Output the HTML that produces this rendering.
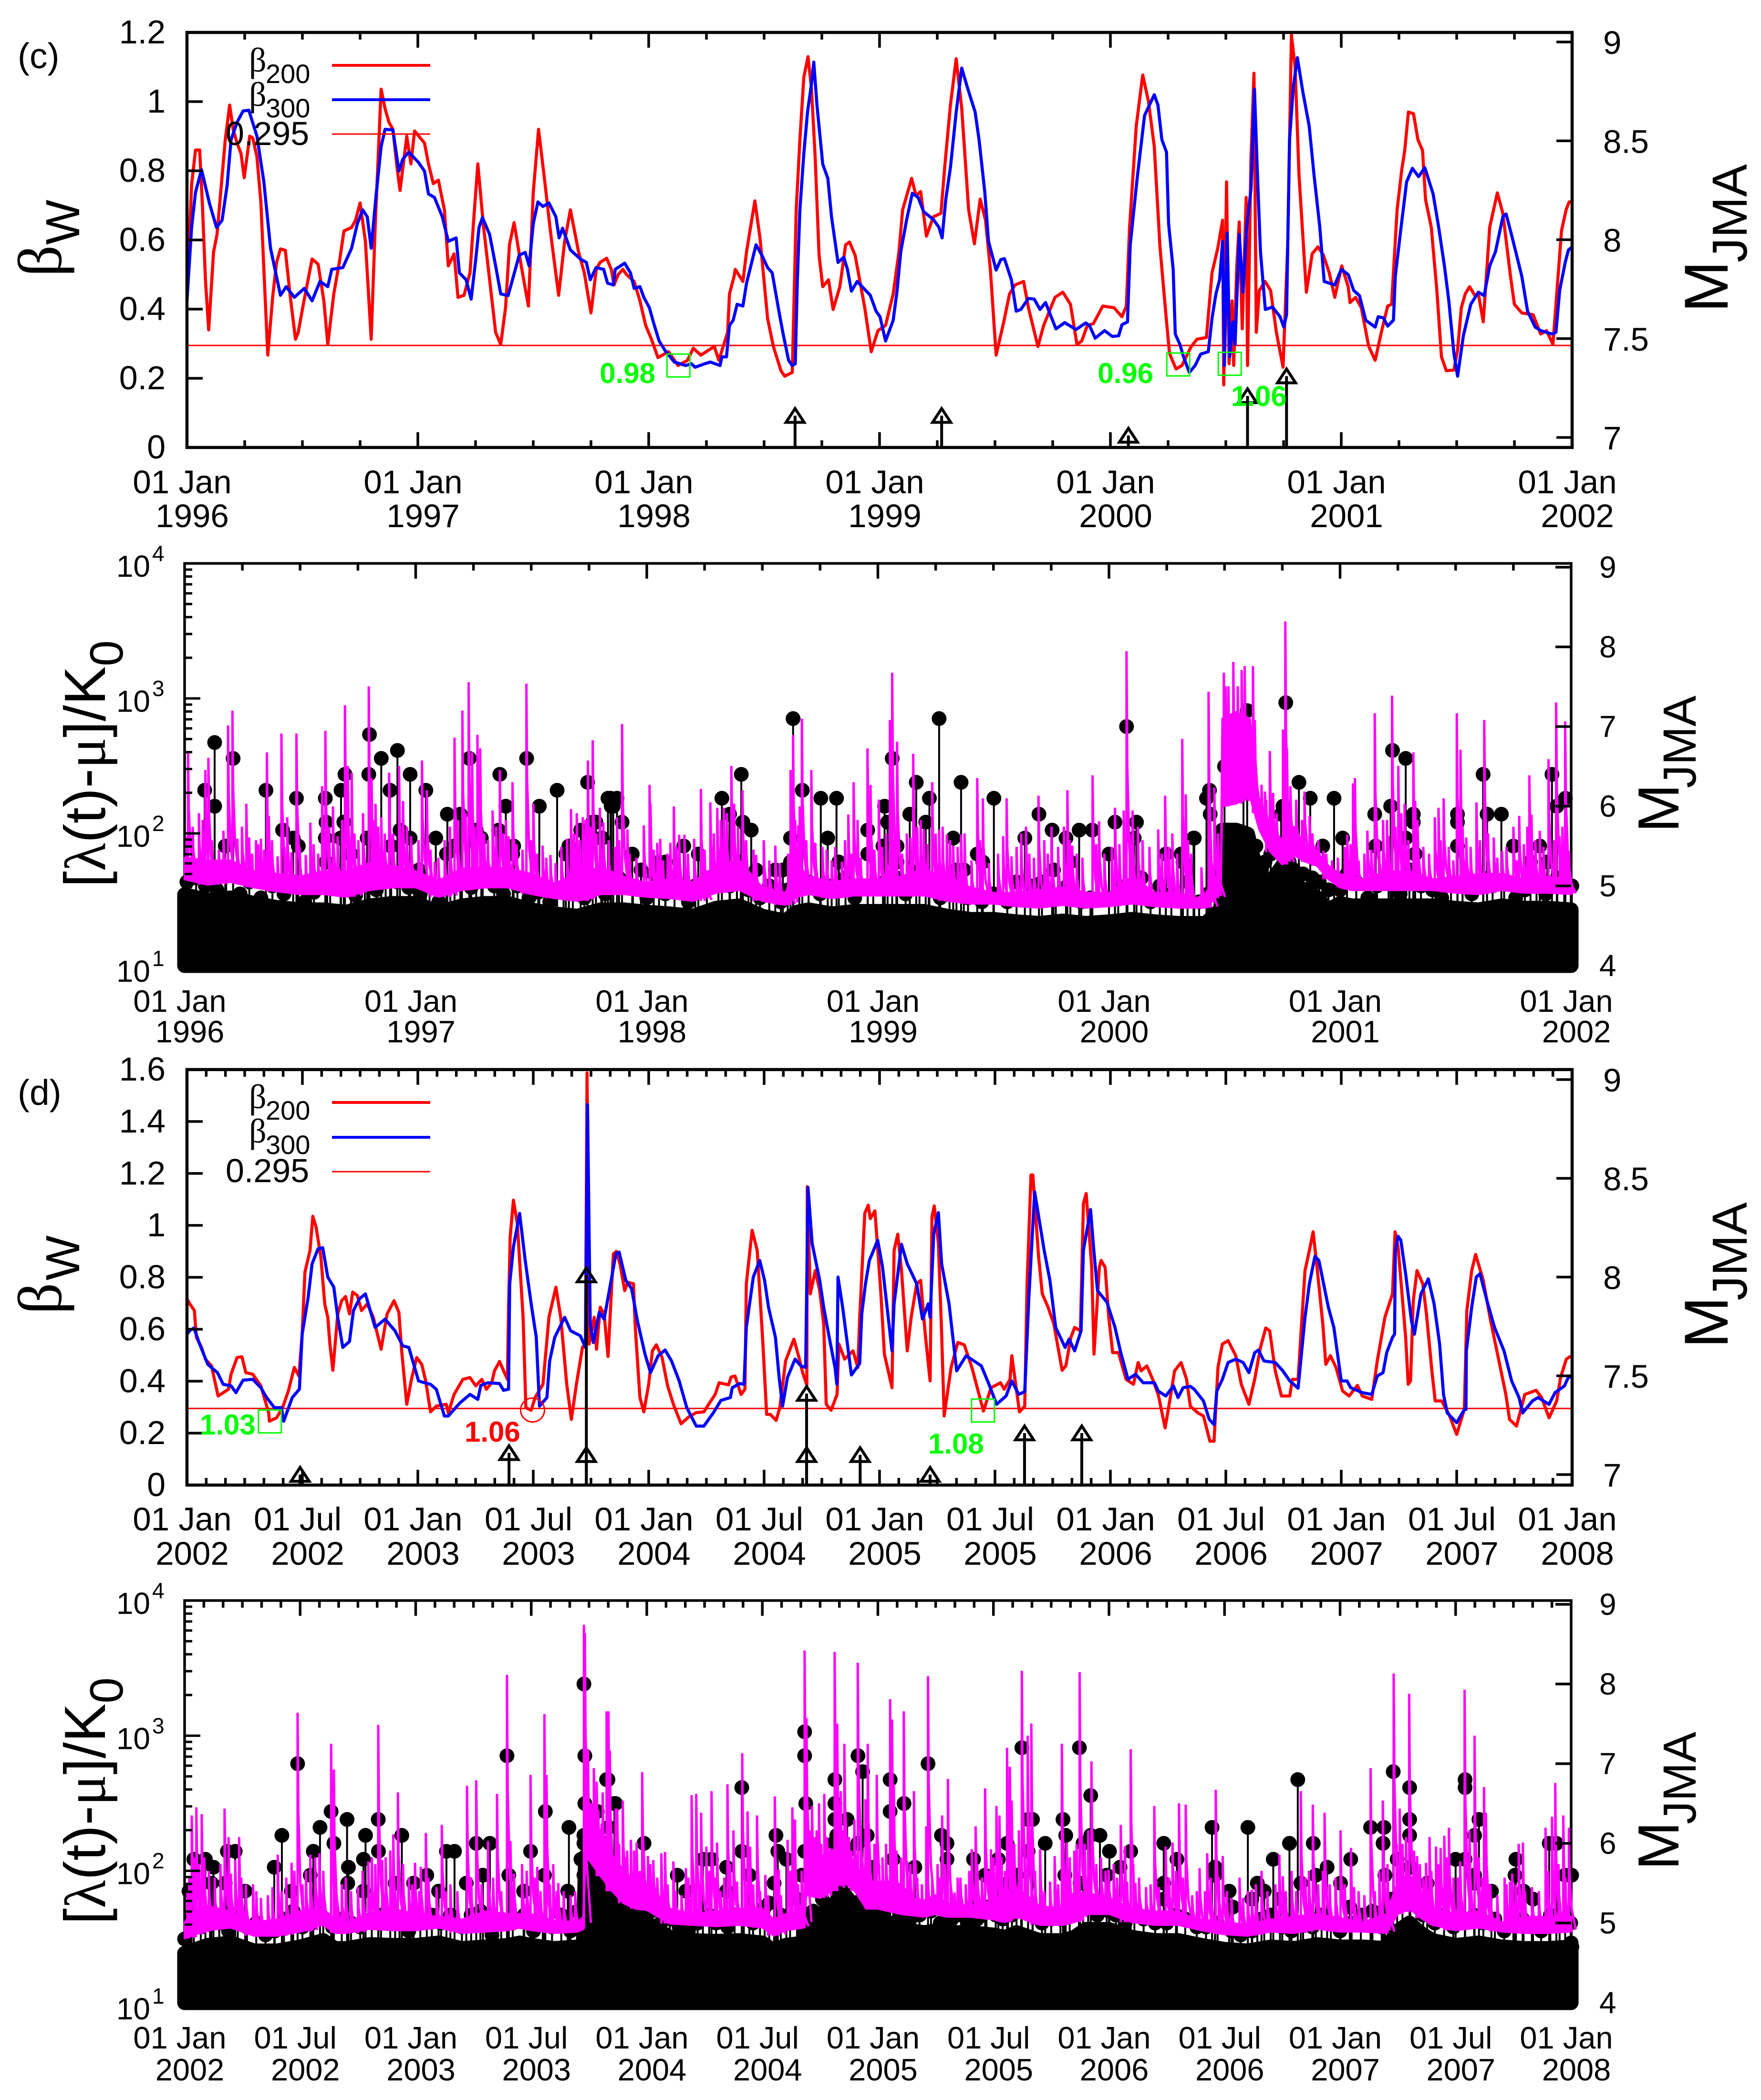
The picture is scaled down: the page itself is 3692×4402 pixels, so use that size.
<!DOCTYPE html>
<html lang="en">
<head>
<meta charset="utf-8">
<title>Branching ratio and seismic rate time series</title>
<style>
html,body{margin:0;padding:0;background:#fff;}
svg{display:block;}
text{font-family:"Liberation Sans",sans-serif;fill:#000;}
.greek{font-family:"Liberation Serif",serif;}
.note{font-weight:bold;font-size:60px;}
</style>
</head>
<body>
<svg id="chart" xmlns="http://www.w3.org/2000/svg" width="3692" height="4402" viewBox="0 0 3692 4402">
<rect x="0" y="0" width="3692" height="4402" fill="#fff"/>

<text x="37" y="143" font-size="75">(c)</text>
<text x="37" y="2316" font-size="75">(d)</text>

<g id="panelC"></g>
<g id="panelCRate"></g>
<g id="panelD"></g>
<g id="panelDRate"></g>

<g>
<g>
<text class="greek" transform="translate(128,580) rotate(-90)" font-size="130">β</text>
<text transform="translate(166,513) rotate(-90)" font-size="100">W</text>
</g>
<g>
<text class="greek" transform="translate(128,2755) rotate(-90)" font-size="130">β</text>
<text transform="translate(166,2684) rotate(-90)" font-size="100">W</text>
</g>
<g>
<text transform="translate(3622,655) rotate(-90)" font-size="130">M</text>
<text transform="translate(3662,550) rotate(-90)" font-size="103">JMA</text>
</g>
<g>
<text transform="translate(3622,2826) rotate(-90)" font-size="130">M</text>
<text transform="translate(3662,2726) rotate(-90)" font-size="103">JMA</text>
</g>
<g>
<text transform="translate(3519,1745) rotate(-90)" font-size="122">M</text>
<text transform="translate(3555,1652) rotate(-90)" font-size="97">JMA</text>
</g>
<g>
<text transform="translate(3519,3920) rotate(-90)" font-size="122">M</text>
<text transform="translate(3555,3824) rotate(-90)" font-size="97">JMA</text>
</g>
<text transform="translate(220,1860) rotate(-90)" font-size="122">[<tspan class="greek">λ</tspan>(t)-<tspan class="greek">μ</tspan>]/K<tspan dy="37" font-size="98">0</tspan></text>
<text transform="translate(220,4034) rotate(-90)" font-size="122">[<tspan class="greek">λ</tspan>(t)-<tspan class="greek">μ</tspan>]/K<tspan dy="37" font-size="98">0</tspan></text>
</g>

<g>
<text class="greek" x="522" y="150" font-size="72">β</text><text x="557" y="174" font-size="56">200</text>
<text class="greek" x="522" y="222" font-size="72">β</text><text x="557" y="246" font-size="56">300</text>
<text x="473" y="304" font-size="70">0.295</text>
<line x1="696" x2="902" y1="137" y2="137" stroke="#f00" stroke-width="6"/>
<line x1="696" x2="902" y1="209" y2="209" stroke="#00f" stroke-width="6"/>
<line x1="696" x2="902" y1="281" y2="281" stroke="#f00" stroke-width="3"/>
</g>
<g>
<text class="greek" x="522" y="2323" font-size="72">β</text><text x="557" y="2347" font-size="56">200</text>
<text class="greek" x="522" y="2395" font-size="72">β</text><text x="557" y="2419" font-size="56">300</text>
<text x="473" y="2478" font-size="70">0.295</text>
<line x1="696" x2="902" y1="2311" y2="2311" stroke="#f00" stroke-width="6"/>
<line x1="696" x2="902" y1="2384" y2="2384" stroke="#00f" stroke-width="6"/>
<line x1="696" x2="902" y1="2456" y2="2456" stroke="#f00" stroke-width="3"/>
</g>

<g>
<text class="note" x="1374" y="803" text-anchor="end" style="fill:#0f0">0.98</text>
<text class="note" x="2418" y="803" text-anchor="end" style="fill:#0f0">0.96</text>
<text class="note" x="2581" y="851" style="fill:#0f0">1.06</text>
<text class="note" x="419" y="3007" style="fill:#0f0">1.03</text>
<text class="note" x="974" y="3022" style="fill:#f00">1.06</text>
<text class="note" x="1946" y="3047" style="fill:#0f0">1.08</text>
</g>
</svg>

<script>
/* ---------- Panel (c): branching ratio, 1996-2002 ---------- */
const beta200C = [[1996.000,.43],[1996.020,.76],[1996.037,.86],[1996.055,.86],[1996.067,.70],[1996.080,.485],[1996.094,.34],[1996.115,.565],[1996.130,.615],[1996.149,.76],[1996.166,.89],[1996.185,.99],[1996.200,.92],[1996.217,.88],[1996.234,.85],[1996.248,.78],[1996.272,.90],[1996.285,.895],[1996.303,.84],[1996.320,.71],[1996.333,.515],[1996.350,.267],[1996.371,.434],[1996.388,.535],[1996.405,.574],[1996.426,.57],[1996.448,.434],[1996.470,.313],[1996.482,.333],[1996.504,.414],[1996.542,.545],[1996.568,.53],[1996.593,.424],[1996.610,.298],[1996.636,.444],[1996.660,.535],[1996.680,.626],[1996.713,.636],[1996.730,.657],[1996.750,.707],[1996.773,.596],[1996.798,.313],[1996.815,.636],[1996.841,1.036],[1996.858,.98],[1996.875,.94],[1996.892,.92],[1996.910,.81],[1996.923,.743],[1996.952,.90],[1996.970,.82],[1996.986,.915],[1997.029,.88],[1997.046,.82],[1997.067,.763],[1997.089,.773],[1997.115,.687],[1997.132,.525],[1997.157,.56],[1997.174,.434],[1997.200,.44],[1997.226,.505],[1997.243,.667],[1997.260,.82],[1997.285,.636],[1997.311,.485],[1997.337,.333],[1997.359,.298],[1997.380,.404],[1997.397,.586],[1997.417,.65],[1997.448,.525],[1997.479,.409],[1997.500,.737],[1997.523,.92],[1997.550,.768],[1997.576,.616],[1997.610,.44],[1997.636,.596],[1997.661,.687],[1997.696,.566],[1997.721,.505],[1997.750,.389],[1997.773,.515],[1997.789,.535],[1997.818,.547],[1997.838,.515],[1997.850,.47],[1997.868,.50],[1997.888,.515],[1997.904,.50],[1997.937,.48],[1997.962,.424],[1997.987,.353],[1998.012,.313],[1998.040,.26],[1998.086,.277],[1998.127,.237],[1998.168,.252],[1998.193,.287],[1998.226,.267],[1998.284,.292],[1998.304,.252],[1998.342,.333],[1998.350,.444],[1998.370,.495],[1998.375,.515],[1998.408,.48],[1998.424,.566],[1998.446,.657],[1998.460,.713],[1998.482,.606],[1998.515,.373],[1998.540,.292],[1998.573,.222],[1998.589,.206],[1998.622,.217],[1998.639,.687],[1998.655,.89],[1998.672,1.07],[1998.690,1.13],[1998.705,1.04],[1998.721,.84],[1998.738,.556],[1998.754,.465],[1998.779,.485],[1998.799,.399],[1998.828,.465],[1998.853,.586],[1998.870,.594],[1998.894,.556],[1998.911,.495],[1998.936,.404],[1998.964,.277],[1998.993,.338],[1999.026,.353],[1999.059,.444],[1999.084,.566],[1999.100,.687],[1999.139,.778],[1999.158,.728],[1999.178,.74],[1999.203,.611],[1999.233,.667],[1999.266,.677],[1999.282,.809],[1999.307,.99],[1999.332,1.124],[1999.356,.98],[1999.386,.687],[1999.411,.589],[1999.436,.718],[1999.459,.657],[1999.480,.515],[1999.505,.267],[1999.538,.363],[1999.563,.444],[1999.587,.47],[1999.624,.48],[1999.645,.404],[1999.686,.292],[1999.711,.353],[1999.760,.434],[1999.794,.449],[1999.827,.414],[1999.855,.298],[1999.876,.308],[1999.900,.353],[1999.926,.358],[1999.967,.409],[2000.016,.404],[2000.050,.378],[2000.069,.409],[2000.083,.637],[2000.112,.93],[2000.140,1.077],[2000.165,1.0],[2000.190,.87],[2000.214,.586],[2000.239,.394],[2000.256,.272],[2000.284,.227],[2000.310,.237],[2000.350,.292],[2000.375,.313],[2000.416,.318],[2000.440,.505],[2000.465,.576],[2000.486,.657],[2000.491,.181],[2000.503,.768],[2000.514,.242],[2000.527,.424],[2000.534,.237],[2000.547,.515],[2000.558,.652],[2000.571,.343],[2000.588,.723],[2000.594,.237],[2000.609,.84],[2000.622,1.082],[2000.632,.333],[2000.645,.454],[2000.670,.48],[2000.694,.454],[2000.719,.333],[2000.748,.232],[2000.768,.586],[2000.784,1.193],[2000.800,1.10],[2000.817,.788],[2000.836,.586],[2000.849,.449],[2000.874,.56],[2000.899,.58],[2000.923,.556],[2000.948,.505],[2000.972,.434],[2001.002,.525],[2001.030,.465],[2001.038,.419],[2001.062,.434],[2001.087,.404],[2001.119,.292],[2001.147,.252],[2001.177,.343],[2001.201,.409],[2001.218,.414],[2001.242,.687],[2001.262,.803],[2001.275,.859],[2001.291,.97],[2001.313,.965],[2001.332,.89],[2001.352,.859],[2001.365,.717],[2001.390,.636],[2001.414,.454],[2001.434,.262],[2001.455,.222],[2001.488,.224],[2001.504,.282],[2001.520,.404],[2001.537,.444],[2001.556,.465],[2001.578,.44],[2001.594,.444],[2001.615,.363],[2001.643,.637],[2001.676,.736],[2001.700,.677],[2001.733,.495],[2001.750,.414],[2001.782,.389],[2001.831,.384],[2001.864,.328],[2001.889,.338],[2001.917,.298],[2001.938,.485],[2001.954,.626],[2001.974,.687],[2001.987,.71],[2002.000,.71]];

const beta300C = [[1996.000,.424],[1996.020,.636],[1996.037,.738],[1996.063,.803],[1996.097,.707],[1996.128,.636],[1996.152,.657],[1996.174,.758],[1996.191,.89],[1996.217,.94],[1996.243,.973],[1996.268,.975],[1996.303,.90],[1996.333,.768],[1996.362,.576],[1996.405,.44],[1996.430,.465],[1996.465,.434],[1996.508,.46],[1996.542,.424],[1996.576,.48],[1996.610,.465],[1996.627,.515],[1996.675,.52],[1996.713,.576],[1996.738,.647],[1996.761,.687],[1996.781,.667],[1996.798,.576],[1996.819,.728],[1996.841,.87],[1996.858,.92],[1996.892,.918],[1996.918,.799],[1996.935,.834],[1996.961,.854],[1997.003,.824],[1997.029,.799],[1997.046,.733],[1997.072,.723],[1997.106,.667],[1997.132,.596],[1997.166,.606],[1997.180,.505],[1997.209,.485],[1997.231,.429],[1997.251,.545],[1997.265,.636],[1997.280,.665],[1997.311,.616],[1997.337,.525],[1997.359,.444],[1997.391,.439],[1997.414,.495],[1997.439,.556],[1997.465,.564],[1997.482,.525],[1997.500,.647],[1997.520,.71],[1997.542,.697],[1997.568,.707],[1997.598,.667],[1997.612,.606],[1997.627,.634],[1997.661,.571],[1997.704,.545],[1997.730,.535],[1997.747,.485],[1997.772,.52],[1997.805,.515],[1997.822,.475],[1997.847,.47],[1997.855,.515],[1997.896,.533],[1997.921,.505],[1997.937,.46],[1997.962,.465],[1997.979,.434],[1998.003,.404],[1998.020,.363],[1998.045,.308],[1998.069,.282],[1998.111,.247],[1998.160,.237],[1998.185,.242],[1998.201,.232],[1998.243,.242],[1998.267,.247],[1998.309,.237],[1998.317,.262],[1998.337,.262],[1998.350,.353],[1998.366,.368],[1998.383,.414],[1998.408,.409],[1998.424,.475],[1998.446,.535],[1998.465,.586],[1998.490,.556],[1998.515,.52],[1998.535,.505],[1998.564,.394],[1998.581,.333],[1998.606,.252],[1998.622,.237],[1998.635,.242],[1998.644,.485],[1998.655,.687],[1998.672,.849],[1998.688,.97],[1998.705,1.05],[1998.715,1.114],[1998.729,.99],[1998.754,.819],[1998.776,.778],[1998.792,.667],[1998.820,.535],[1998.845,.55],[1998.861,.515],[1998.878,.452],[1998.903,.48],[1998.960,.44],[1998.985,.394],[1999.002,.378],[1999.026,.308],[1999.059,.368],[1999.076,.454],[1999.092,.566],[1999.117,.657],[1999.142,.735],[1999.167,.723],[1999.191,.682],[1999.233,.659],[1999.257,.637],[1999.271,.606],[1999.287,.718],[1999.307,.809],[1999.332,.97],[1999.356,1.097],[1999.381,1.04],[1999.414,.97],[1999.431,.89],[1999.456,.738],[1999.472,.596],[1999.505,.513],[1999.525,.543],[1999.541,.546],[1999.571,.485],[1999.592,.394],[1999.612,.399],[1999.645,.431],[1999.670,.429],[1999.695,.399],[1999.719,.419],[1999.764,.343],[1999.802,.361],[1999.851,.341],[1999.893,.36],[1999.909,.353],[1999.934,.316],[1999.975,.338],[2000.008,.321],[2000.036,.323],[2000.050,.355],[2000.074,.363],[2000.086,.586],[2000.116,.778],[2000.148,.96],[2000.190,1.02],[2000.206,.99],[2000.223,.89],[2000.243,.854],[2000.252,.647],[2000.272,.515],[2000.281,.328],[2000.301,.298],[2000.317,.262],[2000.342,.217],[2000.367,.237],[2000.391,.27],[2000.424,.277],[2000.440,.373],[2000.457,.444],[2000.473,.485],[2000.486,.596],[2000.494,.237],[2000.506,.62],[2000.517,.262],[2000.530,.363],[2000.540,.298],[2000.558,.616],[2000.574,.449],[2000.591,.642],[2000.609,.748],[2000.624,1.036],[2000.637,.788],[2000.650,.566],[2000.671,.399],[2000.702,.406],[2000.735,.378],[2000.751,.348],[2000.763,.384],[2000.776,.89],[2000.792,1.04],[2000.810,1.127],[2000.833,1.03],[2000.861,.93],[2000.882,.788],[2000.907,.637],[2000.926,.48],[2000.972,.47],[2001.000,.515],[2001.030,.50],[2001.054,.454],[2001.079,.439],[2001.106,.368],[2001.147,.348],[2001.160,.378],[2001.182,.375],[2001.201,.351],[2001.226,.368],[2001.234,.495],[2001.259,.637],[2001.283,.768],[2001.308,.807],[2001.335,.783],[2001.362,.809],[2001.398,.733],[2001.422,.637],[2001.447,.525],[2001.466,.424],[2001.488,.272],[2001.504,.206],[2001.529,.323],[2001.561,.414],[2001.594,.449],[2001.619,.439],[2001.643,.525],[2001.668,.566],[2001.700,.667],[2001.714,.675],[2001.741,.606],[2001.782,.495],[2001.807,.394],[2001.840,.348],[2001.864,.338],[2001.913,.328],[2001.930,.333],[2001.946,.454],[2001.970,.535],[2001.984,.571],[2002.000,.58]];

const thresholdBeta = [0.295];
const arrowsC = [[1998.634,7.11],[1999.269,7.11],[2000.078,7.01],[2000.594,7.21],[2000.763,7.31]];
const boxesC = [[1998.129,.237],[2000.294,.24],[2000.517,.242]];
const yLabelsC = ["0","0.2","0.4","0.6","0.8","1","1.2"];
const yLabelsD = ["0","0.2","0.4","0.6","0.8","1","1.2","1.4","1.6"];
const rightLabelsBeta = ["7","7.5","8","8.5","9"];
const rightLabelsRate = ["4","5","6","7","8","9"];
const yearLabelsC = ["1996","1997","1998","1999","2000","2001","2002"];
const halfYearLabelsD = [["01 Jan","2002"],["01 Jul","2002"],["01 Jan","2003"],["01 Jul","2003"],["01 Jan","2004"],["01 Jul","2004"],["01 Jan","2005"],["01 Jul","2005"],["01 Jan","2006"],["01 Jul","2006"],["01 Jan","2007"],["01 Jul","2007"],["01 Jan","2008"]];

/* ---------- Panel (c) rate, 1996-2002: [year, magnitude] ---------- */
const eventsCRate = [[1996.13,6.8],[1996.21,6.6],[1996.087,6.2],[1996.13,6.0],[1996.352,6.2],[1996.484,6.1],[1996.609,6.1],[1996.612,5.8],[1996.609,5.6],[1996.612,5.3],[1996.677,6.2],[1996.694,6.4],[1996.689,5.8],[1996.675,5.6],[1996.80,6.9],[1996.797,6.4],[1996.79,5.6],[1996.851,6.6],[1996.889,6.2],[1996.921,6.7],[1996.932,5.7],[1996.976,6.4],[1996.976,5.6],[1997.044,6.2],[1997.087,5.6],[1997.137,5.9],[1997.193,5.9],[1997.232,6.6],[1997.262,5.7],[1997.284,5.6],[1997.364,6.4],[1997.359,5.7],[1997.39,6.0],[1997.424,5.5],[1997.42,5.4],[1997.48,6.6],[1997.535,6.0],[1997.612,6.2],[1997.744,6.3],[1997.766,5.8],[1997.803,5.6],[1997.714,5.7],[1997.663,5.5],[1997.65,5.4],[1997.832,6.1],[1997.846,6.0],[1996.424,5.7],[1996.47,5.6],[1996.492,5.5],[1996.176,5.5],[1997.168,5.5],[1997.133,5.4],[1997.014,5.2],[1996.617,5.1],[1996.72,5.4],[1996.894,5.5],
[1997.78,5.8],[1997.807,5.6],[1997.843,6.1],[1997.871,6.1],[1997.855,6.0],[1997.893,5.8],[1997.937,5.4],[1997.975,5.2],[1998.053,5.3],[1998.081,5.3],[1998.16,5.5],[1998.223,5.4],[1998.325,6.1],[1998.358,5.9],[1998.416,5.8],[1998.409,6.4],[1998.452,5.7],[1998.407,5.3],[1998.473,5.2],[1998.556,5.2],[1998.589,5.2],[1998.633,7.1],[1998.622,5.6],[1998.673,6.2],[1998.622,5.3],[1998.753,6.1],[1998.821,6.1],[1998.783,5.6],[1998.831,5.3],[1998.956,5.7],[1998.956,5.4],[1999.029,6.0],[1999.042,5.8],[1999.022,5.5],[1999.083,5.5],[1999.083,5.3],[1999.062,6.6],[1999.138,5.9],[1999.166,6.3],[1999.223,6.1],[1999.207,5.8],[1999.265,7.1],[1999.326,5.6],[1999.36,6.3],[1999.43,5.4],[1999.454,5.3],[1999.502,6.1],[1999.372,5.2],[1999.636,5.6],[1999.697,5.9],[1999.754,5.7],[1999.814,5.6],[1999.871,5.7],[1999.928,5.7],[1999.833,5.3],[1999.76,5.2],[2000.0,5.4],[2000.026,5.8],[2000.076,7.0],[2000.119,5.8],[2000.109,5.6],[2000.246,5.4],[2000.312,5.4],[2000.32,5.3],[2000.366,5.6],
[2000.369,5.6],[2000.422,6.1],[2000.435,6.2],[2000.438,5.9],[2000.50,6.5],[2000.598,7.2],[2000.582,6.5],[2000.765,7.3],[2000.753,6.0],[2000.745,5.9],[2000.822,6.3],[2000.871,6.1],[2000.974,6.1],[2000.925,5.5],[2001.011,5.6],[2001.15,5.9],[2001.154,5.5],[2001.227,6.7],[2001.219,6.0],[2001.284,6.6],[2001.317,5.9],[2001.317,5.8],[2001.284,5.6],[2001.325,5.4],[2001.508,5.9],[2001.508,5.8],[2001.619,6.4],[2001.636,5.9],[2001.698,5.9],[2001.508,5.5],[2001.75,5.5],[2001.864,5.5],[2001.917,6.4],[2001.938,6.0],[2001.975,6.1],[2001.824,5.3],[2001.897,5.3],[2002.003,5.0],[2002.0,4.5],[2000.636,5.5],[2000.675,5.3]];

/* smaller events just above the dense background */
const lowEventsCRate = [[1996.01,5.05],[1996.05,5.1],[1996.09,5.0],[1996.14,4.95],[1996.18,5.12],[1996.24,4.9],[1996.28,5.05],[1996.33,4.85],[1996.38,5.0],[1996.43,4.9],[1996.47,5.05],[1996.52,4.8],[1996.56,4.92],[1996.63,5.0],[1996.69,5.1],[1996.74,4.88],[1996.78,5.08],[1996.83,4.95],[1996.87,5.12],[1996.92,5.05],[1996.97,4.98],[1997.02,4.9],[1997.06,5.0],[1997.1,4.8],[1997.15,5.05],[1997.2,5.1],[1997.24,4.98],[1997.29,5.12],[1997.34,5.0],[1997.38,4.9],[1997.44,5.0],[1997.49,4.85],[1997.53,4.92],[1997.58,4.8],[1997.64,4.95],[1997.68,5.05],[1997.73,4.85],[1997.78,5.0],[1997.82,4.9],[1997.88,5.1],[1997.94,5.0],[1998.0,4.85],[1998.03,5.15],[1998.08,4.9],[1998.12,5.1],[1998.18,4.8],[1998.21,5.0],[1998.26,5.1],[1998.31,5.2],[1998.36,5.0],[1998.39,5.1],[1998.44,4.95],[1998.49,4.85],[1998.53,5.0],[1998.58,4.8],[1998.61,4.95],[1998.66,5.1],[1998.7,5.05],[1998.75,4.9],[1998.8,5.0],[1998.86,5.1],[1998.9,4.85],[1998.98,5.0],[1999.03,5.05],[1999.08,5.1],[1999.12,4.9],[1999.18,5.2],[1999.22,5.0],[1999.27,4.85],[1999.31,5.1],[1999.34,5.2],[1999.39,4.85],[1999.45,4.8],[1999.5,4.9],[1999.56,4.8],[1999.6,5.05],[1999.66,5.0],[1999.71,5.05],[1999.77,4.85],[1999.82,5.0],[1999.88,4.8],[1999.92,4.85],[2000.04,5.0],[2000.08,4.9],[2000.14,5.1],[2000.18,4.8],[2000.22,5.0],[2000.27,4.9],[2000.34,5.05],[2000.39,4.8],[2000.43,4.9],[2000.47,5.0],[2000.66,5.2],[2000.7,5.4],[2000.73,5.5],[2000.78,5.3],[2000.8,5.2],[2000.84,5.15],[2000.88,5.1],[2000.91,5.05],[2000.95,4.95],[2001.0,4.95],[2001.03,5.15],[2001.07,5.05],[2001.12,4.85],[2001.16,5.0],[2001.21,5.05],[2001.26,4.9],[2001.3,5.2],[2001.35,5.0],[2001.4,4.95],[2001.44,4.85],[2001.48,5.0],[2001.53,5.05],[2001.57,4.9],[2001.62,5.1],[2001.66,5.0],[2001.71,5.05],[2001.76,4.85],[2001.8,4.95],[2001.85,5.0],[2001.89,4.9],[2001.94,5.1],[2001.97,5.0]];

/* centre magnitude of the solid background-event mass */
const backgroundTopCRate = [[1996.0,4.89],[1996.1,4.82],[1996.2,4.85],[1996.3,4.78],[1996.4,4.73],[1996.5,4.7],[1996.6,4.7],[1996.7,4.67],[1996.8,4.75],[1996.9,4.78],[1997.0,4.78],[1997.1,4.67],[1997.2,4.75],[1997.3,4.78],[1997.4,4.78],[1997.5,4.7],[1997.6,4.65],[1997.7,4.62],[1997.8,4.7],[1997.9,4.7],[1998.0,4.67],[1998.1,4.65],[1998.2,4.62],[1998.3,4.72],[1998.4,4.75],[1998.5,4.62],[1998.6,4.56],[1998.65,4.67],[1998.7,4.7],[1998.8,4.65],[1998.9,4.68],[1999.0,4.68],[1999.1,4.68],[1999.2,4.68],[1999.3,4.62],[1999.4,4.58],[1999.5,4.58],[1999.6,4.55],[1999.7,4.53],[1999.8,4.56],[1999.9,4.53],[2000.0,4.55],[2000.1,4.58],[2000.2,4.55],[2000.3,4.53],[2000.38,4.53],[2000.42,4.53],[2000.46,4.65],[2000.484,4.7],[2000.49,5.7],[2000.55,5.7],[2000.6,5.65],[2000.62,5.4],[2000.65,5.1],[2000.7,5.05],[2000.75,5.25],[2000.8,5.0],[2000.85,4.95],[2000.9,4.85],[2000.95,4.7],[2001.0,4.78],[2001.05,4.75],[2001.1,4.75],[2001.2,4.75],[2001.3,4.75],[2001.4,4.75],[2001.5,4.72],[2001.6,4.7],[2001.7,4.75],[2001.8,4.72],[2001.9,4.72],[2002.0,4.7]];

/* [year, log10 lower, log10 upper] of the dense rate band */
const rateBandC = [[1996.0,1.66,1.82],[1996.1,1.62,1.8],[1996.2,1.64,1.8],[1996.3,1.6,1.72],[1996.4,1.57,1.7],[1996.5,1.55,1.68],[1996.6,1.55,1.72],[1996.7,1.53,1.72],[1996.8,1.58,1.78],[1996.9,1.6,1.76],[1997.0,1.6,1.72],[1997.1,1.53,1.65],[1997.2,1.58,1.74],[1997.3,1.6,1.75],[1997.4,1.6,1.74],[1997.5,1.55,1.7],[1997.6,1.52,1.63],[1997.7,1.5,1.7],[1997.8,1.55,1.75],[1997.9,1.55,1.68],[1998.0,1.53,1.63],[1998.1,1.52,1.66],[1998.2,1.5,1.64],[1998.3,1.56,1.76],[1998.4,1.58,1.8],[1998.5,1.5,1.6],[1998.6,1.47,1.56],[1998.65,1.53,1.78],[1998.7,1.55,1.68],[1998.8,1.52,1.64],[1998.9,1.54,1.66],[1999.0,1.54,1.66],[1999.1,1.54,1.68],[1999.2,1.54,1.74],[1999.3,1.5,1.66],[1999.4,1.48,1.6],[1999.5,1.48,1.56],[1999.6,1.46,1.56],[1999.7,1.45,1.58],[1999.8,1.47,1.6],[1999.9,1.45,1.56],[2000.0,1.46,1.56],[2000.1,1.48,1.68],[2000.2,1.46,1.56],[2000.3,1.45,1.56],[2000.38,1.45,1.52],[2000.42,1.45,1.56],[2000.46,1.52,1.68],[2000.484,1.55,1.7],[2000.49,2.2,2.85],[2000.55,2.22,2.9],[2000.61,2.27,2.85],[2000.63,2.15,2.5],[2000.65,2.03,2.25],[2000.7,1.86,2.05],[2000.75,1.77,1.95],[2000.8,1.84,2.05],[2000.85,1.79,1.9],[2000.9,1.76,1.86],[2000.95,1.66,1.76],[2001.0,1.6,1.7],[2001.05,1.58,1.68],[2001.1,1.58,1.66],[2001.2,1.58,1.72],[2001.3,1.58,1.72],[2001.4,1.58,1.66],[2001.5,1.56,1.68],[2001.6,1.55,1.7],[2001.7,1.58,1.7],[2001.8,1.56,1.66],[2001.9,1.56,1.68],[2002.0,1.55,1.66]];

/* [year, log10 peak] */
const rateSpikesC = [[1996.015,2.6],[1996.062,2.15],[1996.09,2.47],[1996.103,2.56],[1996.188,2.8],[1996.207,2.91],[1996.267,2.22],[1996.279,1.97],[1996.309,1.95],[1996.33,1.96],[1996.356,2.6],[1996.364,2.13],[1996.419,2.74],[1996.444,2.12],[1996.484,2.74],[1996.544,2.08],[1996.609,2.76],[1996.595,2.35],[1996.694,2.95],[1996.706,2.5],[1996.723,2.45],[1996.797,3.09],[1996.809,2.41],[1996.826,2.22],[1996.851,2.12],[1996.885,2.45],[1996.928,2.5],[1996.945,2.24],[1996.98,1.98],[1997.027,2.54],[1997.048,2.32],[1997.082,1.79],[1997.168,2.71],[1997.202,2.91],[1997.229,3.12],[1997.244,2.6],[1997.267,2.73],[1997.279,2.63],[1997.333,2.17],[1997.364,2.47],[1997.39,2.1],[1997.419,2.38],[1997.479,3.11],[1997.509,2.22],[1997.549,1.91],[1997.583,1.84],[1997.672,2.18],[1997.745,2.54],[1997.766,2.69],[1997.697,2.15],[1997.723,2.12],[1997.797,2.19],
[1997.893,2.81],[1997.871,2.12],[1997.916,2.03],[1997.987,2.06],[1998.012,2.36],[1998.016,2.22],[1998.045,1.93],[1998.058,1.96],[1998.117,2.2],[1998.102,1.93],[1998.14,1.99],[1998.163,1.99],[1998.234,2.33],[1998.275,2.23],[1998.305,2.19],[1998.333,2.19],[1998.366,2.5],[1998.378,2.22],[1998.414,2.32],[1998.473,1.84],[1998.506,1.95],[1998.556,1.91],[1998.622,2.47],[1998.633,2.73],[1998.655,2.06],[1998.671,2.85],[1998.712,2.47],[1998.729,1.93],[1998.778,1.88],[1998.844,1.79],[1998.872,2.14],[1998.895,2.38],[1998.912,2.1],[1998.955,2.63],[1998.968,2.36],[1999.004,2.25],[1999.052,2.84],[1999.062,3.19],[1999.083,2.68],[1999.153,2.59],[1999.141,1.97],[1999.199,2.03],[1999.235,2.38],[1999.265,2.03],[1999.298,1.99],[1999.326,1.91],[1999.36,1.99],[1999.43,2.41],[1999.454,2.26],[1999.542,1.98],[1999.557,2.26],[1999.578,1.83],[1999.641,2.05],[1999.695,2.28],[1999.751,2.05],[1999.82,2.32],[1999.841,1.91],[1999.929,2.43],[1999.957,2.09],[2000.026,2.19],[2000.076,3.35],[2000.064,2.17],[2000.102,2.17],[2000.213,2.03],[2000.243,2.28],[2000.274,2.0],[2000.317,2.7],[2000.332,2.29],
[2000.431,3.05],[2000.456,2.34],[2000.497,3.19],[2000.505,3.09],[2000.517,3.09],[2000.538,3.27],[2000.557,3.09],[2000.574,3.21],[2000.587,3.24],[2000.623,3.24],[2000.631,2.84],[2000.66,2.36],[2000.696,2.61],[2000.675,2.31],[2000.753,2.77],[2000.763,3.57],[2000.77,2.63],[2000.846,2.31],[2000.868,2.13],[2000.892,1.91],[2000.928,1.87],[2001.031,1.99],[2001.056,2.37],[2001.064,2.41],[2001.118,2.02],[2001.15,2.89],[2001.186,2.1],[2001.203,2.1],[2001.225,3.02],[2001.252,2.5],[2001.279,2.22],[2001.317,2.6],[2001.325,2.24],[2001.41,2.12],[2001.426,2.19],[2001.448,2.26],[2001.505,2.89],[2001.521,2.62],[2001.546,1.97],[2001.59,2.23],[2001.624,2.84],[2001.665,1.97],[2001.701,1.87],[2001.75,2.05],[2001.775,2.13],[2001.819,2.43],[2001.828,2.14],[2001.864,2.02],[2001.902,2.55],[2001.935,2.97],[2001.962,2.05],[2001.974,2.83],[2001.99,1.87]];

/* shorter aftershock spikes forming the jagged top of the band */
const minorSpikesC = [[1996.008,1.98],[1996.035,2.05],[1996.078,2.1],[1996.118,1.95],[1996.148,1.88],[1996.168,2.02],[1996.228,1.96],[1996.248,2.05],[1996.292,1.85],[1996.318,1.92],[1996.344,1.88],[1996.378,1.95],[1996.402,1.83],[1996.432,1.9],[1996.462,1.86],[1996.498,1.9],[1996.524,1.84],[1996.558,1.92],[1996.578,1.85],[1996.625,2.05],[1996.642,2.2],[1996.662,1.98],[1996.682,2.1],[1996.735,2.0],[1996.752,1.95],[1996.772,2.15],[1996.815,2.1],[1996.838,2.05],[1996.866,2.0],[1996.902,2.0],[1996.938,1.95],[1996.962,2.05],
[1997.012,1.95],[1997.064,1.88],[1997.098,1.82],[1997.125,1.95],[1997.148,2.05],[1997.182,2.1],[1997.216,2.15],[1997.255,2.05],[1997.296,2.0],[1997.312,1.95],[1997.348,2.05],[1997.378,2.0],[1997.402,1.98],[1997.436,1.92],[1997.462,1.88],[1997.498,1.95],[1997.525,1.85],[1997.565,1.82],[1997.605,1.78],[1997.63,1.9],[1997.655,1.96],[1997.685,2.0],[1997.71,1.95],[1997.735,2.1],[1997.755,2.05],[1997.782,2.0],[1997.812,2.08],[1997.835,1.95],[1997.862,1.9],[1997.88,1.95],[1997.925,1.85],[1997.955,1.82],
[1998.03,1.88],[1998.07,1.8],[1998.09,1.85],[1998.128,1.9],[1998.178,1.85],[1998.205,1.96],[1998.25,1.88],[1998.29,2.0],[1998.32,2.1],[1998.346,2.15],[1998.395,2.05],[1998.43,1.95],[1998.462,1.88],[1998.53,1.8],[1998.575,1.78],[1998.612,1.85],[1998.642,2.1],[1998.662,2.2],[1998.69,1.95],[1998.73,1.85],[1998.76,1.9],[1998.8,1.8],[1998.815,1.9],[1998.858,1.95],[1998.885,1.85],[1998.925,1.82],[1998.985,1.88],
[1999.018,1.9],[1999.035,2.0],[1999.072,1.95],[1999.105,1.85],[1999.125,2.0],[1999.17,2.05],[1999.185,2.1],[1999.215,1.92],[1999.25,2.0],[1999.28,2.05],[1999.312,1.95],[1999.345,1.9],[1999.375,2.0],[1999.405,1.8],[1999.442,1.95],[1999.48,1.78],[1999.52,1.85],[1999.6,1.9],[1999.62,2.0],[1999.655,1.85],[1999.675,1.82],[1999.72,1.95],[1999.735,1.85],[1999.78,1.9],[1999.805,2.05],[1999.83,1.95],[1999.86,1.85],[1999.885,1.82],[1999.945,1.92],[1999.98,1.85],
[2000.012,1.9],[2000.045,1.92],[2000.09,2.0],[2000.125,2.05],[2000.145,1.95],[2000.175,1.9],[2000.228,1.85],[2000.26,1.9],[2000.295,1.85],[2000.342,1.95],[2000.355,1.85],[2000.4,1.75],[2000.44,1.85],[2000.472,2.0],[2000.66,2.2],[2000.68,2.25],[2000.71,2.3],[2000.725,2.15],[2000.785,2.35],[2000.81,2.25],[2000.835,2.1],[2000.88,2.0],[2000.905,1.95],[2000.94,1.85],[2000.965,1.8],[2000.99,1.82],
[2001.02,1.9],[2001.045,1.92],[2001.08,1.8],[2001.105,1.85],[2001.135,1.88],[2001.168,1.95],[2001.21,1.98],[2001.24,2.05],[2001.265,2.15],[2001.295,1.95],[2001.335,2.1],[2001.36,1.9],[2001.385,1.85],[2001.435,1.95],[2001.47,1.9],[2001.49,1.8],[2001.53,2.05],[2001.565,1.9],[2001.605,1.95],[2001.64,2.0],[2001.68,1.82],[2001.72,1.9],[2001.765,1.8],[2001.795,1.92],[2001.81,2.05],[2001.845,1.95],[2001.88,1.9],[2001.925,1.95],[2001.95,1.98],[2001.98,2.0]];

/* ---------- Panel (d): branching ratio, 2002-2008 ---------- */
const beta200D = [[2002.000,.717],[2002.012,.698],[2002.032,.672],[2002.041,.569],[2002.063,.53],[2002.080,.485],[2002.106,.459],[2002.135,.343],[2002.180,.369],[2002.191,.427],[2002.217,.491],[2002.238,.494],[2002.255,.433],[2002.285,.427],[2002.320,.382],[2002.354,.278],[2002.357,.246],[2002.388,.259],[2002.414,.298],[2002.439,.362],[2002.465,.453],[2002.485,.42],[2002.499,.581],[2002.511,.82],[2002.533,.904],[2002.545,1.035],[2002.559,.994],[2002.580,.878],[2002.597,.697],[2002.610,.646],[2002.619,.543],[2002.632,.442],[2002.653,.659],[2002.670,.71],[2002.687,.726],[2002.704,.659],[2002.718,.743],[2002.738,.73],[2002.756,.672],[2002.781,.698],[2002.807,.646],[2002.841,.523],[2002.867,.659],[2002.897,.71],[2002.918,.665],[2002.930,.517],[2002.952,.311],[2002.974,.414],[2002.995,.491],[2003.017,.465],[2003.034,.401],[2003.055,.282],[2003.080,.304],[2003.123,.311],[2003.132,.278],[2003.157,.349],[2003.195,.407],[2003.226,.414],[2003.251,.382],[2003.277,.407],[2003.297,.369],[2003.320,.394],[2003.332,.44],[2003.354,.476],[2003.388,.407],[2003.393,.684],[2003.400,.955],[2003.414,1.097],[2003.431,1.007],[2003.456,.646],[2003.468,.298],[2003.491,.288],[2003.508,.337],[2003.542,.388],[2003.568,.646],[2003.598,.762],[2003.619,.646],[2003.645,.388],[2003.665,.253],[2003.687,.388],[2003.713,.53],[2003.726,.543],[2003.733,1.587],[2003.742,.543],[2003.764,.646],[2003.774,.523],[2003.790,.685],[2003.807,.659],[2003.824,.495],[2003.847,.89],[2003.860,.90],[2003.876,.85],[2003.896,.749],[2003.909,.781],[2003.934,.775],[2003.942,.607],[2003.962,.337],[2003.979,.282],[2004.000,.388],[2004.016,.517],[2004.033,.54],[2004.058,.491],[2004.082,.382],[2004.107,.311],[2004.140,.236],[2004.173,.262],[2004.206,.279],[2004.239,.282],[2004.264,.317],[2004.288,.349],[2004.305,.394],[2004.346,.386],[2004.357,.416],[2004.374,.42],[2004.400,.349],[2004.417,.369],[2004.423,.775],[2004.448,.981],[2004.470,.904],[2004.494,.556],[2004.511,.272],[2004.527,.272],[2004.552,.249],[2004.568,.298],[2004.593,.478],[2004.629,.562],[2004.651,.491],[2004.667,.433],[2004.685,.385],[2004.687,1.149],[2004.700,.736],[2004.722,.826],[2004.741,.749],[2004.758,.62],[2004.769,.311],[2004.790,.288],[2004.816,.349],[2004.824,.543],[2004.849,.485],[2004.885,.517],[2004.906,.453],[2004.914,.646],[2004.936,1.046],[2004.951,1.078],[2004.960,1.026],[2004.980,1.056],[2005.005,.749],[2005.021,.504],[2005.054,.375],[2005.063,.904],[2005.079,.966],[2005.095,.826],[2005.120,.517],[2005.137,.646],[2005.161,.775],[2005.178,.788],[2005.198,.581],[2005.219,.401],[2005.227,1.033],[2005.237,1.075],[2005.255,.93],[2005.269,.581],[2005.280,.266],[2005.310,.453],[2005.339,.549],[2005.367,.54],[2005.400,.453],[2005.450,.285],[2005.483,.375],[2005.524,.394],[2005.540,.369],[2005.565,.407],[2005.573,.498],[2005.606,.282],[2005.629,.304],[2005.639,.775],[2005.656,1.194],[2005.664,1.194],[2005.689,.878],[2005.705,.736],[2005.730,.685],[2005.755,.62],[2005.791,.442],[2005.807,.459],[2005.829,.569],[2005.845,.607],[2005.870,.594],[2005.883,1.084],[2005.895,1.123],[2005.919,.839],[2005.929,.504],[2005.952,.839],[2005.960,.865],[2005.977,.839],[2005.993,.646],[2006.010,.51],[2006.035,.51],[2006.068,.407],[2006.100,.388],[2006.120,.472],[2006.133,.44],[2006.158,.459],[2006.183,.407],[2006.207,.349],[2006.237,.22],[2006.257,.324],[2006.278,.44],[2006.306,.472],[2006.330,.407],[2006.346,.304],[2006.379,.278],[2006.403,.266],[2006.431,.169],[2006.449,.169],[2006.466,.453],[2006.485,.543],[2006.510,.556],[2006.543,.498],[2006.567,.388],[2006.600,.311],[2006.625,.407],[2006.650,.53],[2006.673,.605],[2006.690,.594],[2006.714,.44],[2006.741,.343],[2006.777,.343],[2006.788,.407],[2006.813,.407],[2006.830,.646],[2006.843,.826],[2006.862,.904],[2006.878,.975],[2006.895,.839],[2006.920,.62],[2006.933,.465],[2006.953,.498],[2006.977,.453],[2007.006,.362],[2007.034,.343],[2007.070,.384],[2007.091,.343],[2007.132,.33],[2007.156,.478],[2007.189,.646],[2007.222,.736],[2007.233,.975],[2007.246,.917],[2007.279,.569],[2007.290,.388],[2007.300,.401],[2007.312,.71],[2007.328,.826],[2007.353,.775],[2007.369,.659],[2007.394,.427],[2007.407,.324],[2007.435,.324],[2007.467,.272],[2007.500,.195],[2007.533,.291],[2007.544,.672],[2007.565,.826],[2007.582,.888],[2007.615,.788],[2007.647,.633],[2007.680,.491],[2007.713,.349],[2007.729,.253],[2007.759,.227],[2007.795,.349],[2007.844,.365],[2007.868,.337],[2007.900,.259],[2007.933,.324],[2007.950,.414],[2007.975,.485],[2007.990,.494],[2008.000,.498]];

const beta300D = [[2002.000,.58],[2002.012,.595],[2002.030,.605],[2002.055,.543],[2002.090,.465],[2002.132,.433],[2002.157,.388],[2002.191,.382],[2002.212,.356],[2002.243,.404],[2002.285,.407],[2002.320,.375],[2002.345,.337],[2002.379,.298],[2002.409,.298],[2002.419,.246],[2002.456,.337],[2002.487,.369],[2002.499,.581],[2002.525,.723],[2002.542,.852],[2002.568,.91],[2002.588,.914],[2002.610,.801],[2002.636,.762],[2002.653,.646],[2002.675,.53],[2002.704,.553],[2002.721,.672],[2002.747,.717],[2002.773,.736],[2002.815,.607],[2002.858,.639],[2002.901,.594],[2002.935,.536],[2002.961,.53],[2003.003,.401],[2003.029,.394],[2003.055,.388],[2003.080,.369],[2003.115,.266],[2003.132,.266],[2003.183,.317],[2003.226,.349],[2003.260,.33],[2003.273,.384],[2003.303,.394],[2003.354,.391],[2003.371,.365],[2003.393,.369],[2003.398,.775],[2003.414,.917],[2003.441,1.046],[2003.465,.865],[2003.491,.698],[2003.513,.569],[2003.527,.304],[2003.559,.337],[2003.571,.478],[2003.593,.569],[2003.636,.646],[2003.662,.594],[2003.704,.575],[2003.726,.53],[2003.735,1.465],[2003.747,.62],[2003.760,.549],[2003.786,.665],[2003.807,.639],[2003.832,.762],[2003.858,.891],[2003.872,.897],[2003.901,.788],[2003.926,.756],[2003.951,.633],[2003.984,.504],[2004.008,.433],[2004.041,.498],[2004.071,.52],[2004.099,.478],[2004.132,.401],[2004.165,.298],[2004.206,.227],[2004.239,.227],[2004.280,.278],[2004.313,.326],[2004.354,.337],[2004.362,.375],[2004.395,.391],[2004.413,.388],[2004.423,.607],[2004.453,.801],[2004.481,.865],[2004.502,.788],[2004.519,.685],[2004.549,.569],[2004.565,.414],[2004.580,.304],[2004.601,.414],[2004.634,.485],[2004.659,.459],[2004.680,.453],[2004.690,1.146],[2004.708,.93],[2004.741,.788],[2004.758,.685],[2004.782,.569],[2004.807,.453],[2004.815,.388],[2004.820,.801],[2004.840,.685],[2004.857,.569],[2004.878,.424],[2004.914,.468],[2004.923,.659],[2004.939,.775],[2004.956,.865],[2004.992,.943],[2005.013,.839],[2005.054,.517],[2005.063,.698],[2005.095,.927],[2005.120,.852],[2005.161,.775],[2005.186,.639],[2005.211,.698],[2005.219,.646],[2005.235,.968],[2005.255,1.049],[2005.269,.852],[2005.301,.698],[2005.334,.44],[2005.375,.498],[2005.441,.459],[2005.474,.388],[2005.507,.311],[2005.548,.343],[2005.573,.401],[2005.603,.349],[2005.629,.36],[2005.647,.723],[2005.672,1.129],[2005.713,.904],[2005.738,.788],[2005.763,.607],[2005.804,.53],[2005.821,.562],[2005.845,.517],[2005.873,.594],[2005.883,.904],[2005.914,1.061],[2005.928,.904],[2005.944,.749],[2005.985,.704],[2006.020,.607],[2006.043,.517],[2006.076,.407],[2006.109,.427],[2006.142,.394],[2006.191,.394],[2006.207,.362],[2006.240,.343],[2006.273,.382],[2006.293,.337],[2006.315,.375],[2006.346,.38],[2006.363,.369],[2006.403,.324],[2006.428,.253],[2006.449,.233],[2006.461,.362],[2006.485,.407],[2006.510,.472],[2006.543,.485],[2006.575,.472],[2006.600,.433],[2006.625,.51],[2006.641,.52],[2006.665,.478],[2006.714,.472],[2006.747,.44],[2006.777,.401],[2006.813,.373],[2006.843,.646],[2006.862,.775],[2006.886,.881],[2006.903,.865],[2006.944,.685],[2006.968,.607],[2007.000,.401],[2007.025,.401],[2007.041,.375],[2007.091,.356],[2007.132,.349],[2007.156,.42],[2007.181,.433],[2007.197,.51],[2007.222,.569],[2007.231,.581],[2007.234,.90],[2007.246,.958],[2007.258,.943],[2007.279,.813],[2007.304,.633],[2007.317,.581],[2007.345,.736],[2007.377,.794],[2007.402,.698],[2007.426,.543],[2007.443,.349],[2007.459,.278],[2007.500,.24],[2007.533,.291],[2007.540,.291],[2007.542,.517],[2007.565,.685],[2007.585,.801],[2007.601,.814],[2007.631,.71],[2007.664,.607],[2007.705,.517],[2007.738,.401],[2007.770,.337],[2007.786,.278],[2007.828,.324],[2007.852,.337],[2007.900,.311],[2007.926,.356],[2007.967,.382],[2007.984,.416],[2008.000,.416]];

const arrowsD = [[2002.49,7.0],[2003.395,7.11],[2003.73,7.1],[2003.73,8.01],[2004.684,7.1],[2004.684,7.41],[2004.916,7.1],[2005.219,7.0],[2005.628,7.21],[2005.876,7.21]];
const boxesD = [[2002.359,.245],[2005.448,.287]];
const circlesD = [[2003.497,.289]];

/* ---------- Panel (d) rate, 2002-2008 ---------- */
const eventsDRate = [[2002.489,7.0],[2002.421,6.1],[2002.388,5.7],[2002.462,5.4],[2002.544,5.6],[2002.557,5.9],[2002.586,6.2],[2002.634,6.4],[2002.646,6.0],[2002.709,5.7],[2002.706,5.5],[2002.703,6.3],[2002.783,6.1],[2002.774,5.8],[2002.774,5.4],[2002.838,6.3],[2002.839,5.9],[2002.94,6.1],[2002.911,5.5],[2002.991,5.5],[2003.048,5.6],[2003.099,5.4],[2003.133,5.9],[2003.168,5.9],[2003.219,5.5],[2003.262,6.0],[2003.321,6.0],[2003.291,5.6],[2003.395,7.1],[2003.403,5.6],[2003.497,5.9],[2003.561,6.4],[2003.557,5.6],[2003.467,5.4],[2003.663,6.2],[2003.658,5.4],[2003.715,5.8],[2003.728,8.0],[2003.732,7.1],[2003.732,6.5],[2003.728,6.1],[2003.728,6.0],[2003.728,5.6],[2003.826,6.8],[2003.834,6.2],[2003.86,6.5],[2003.766,6.4],[2003.817,6.0],[2002.04,5.8],[2002.09,5.8],[2002.125,5.7],[2002.116,5.5],[2002.176,5.5],[2002.185,5.9],[2002.219,5.9],[2002.262,5.4],[2002.019,5.4],[2002.0,4.8],
[2003.832,6.8],[2003.865,6.5],[2003.836,6.2],[2003.988,6.0],[2003.786,6.4],[2003.82,6.0],[2004.132,5.6],[2004.169,5.4],[2004.243,5.8],[2004.28,5.8],[2004.345,5.7],[2004.411,6.7],[2004.411,5.9],[2004.345,5.4],[2004.444,5.6],[2004.559,6.1],[2004.567,5.9],[2004.604,5.8],[2004.551,5.5],[2004.51,5.2],[2004.683,7.4],[2004.683,7.1],[2004.688,6.5],[2004.683,5.9],[2004.671,5.6],[2004.814,6.8],[2004.814,6.5],[2004.814,6.3],[2004.822,6.1],[2004.809,6.0],[2004.867,6.3],[2004.867,5.9],[2004.914,7.1],[2004.934,6.9],[2004.954,6.1],[2004.913,6.0],[2004.979,5.7],[2004.88,5.7],[2004.951,5.3],[2005.053,6.8],[2005.053,6.4],[2005.113,6.5],[2005.066,5.8],[2005.16,5.7],[2005.217,7.0],[2005.275,6.1],[2005.299,6.0],[2005.299,5.8],[2005.414,5.8],[2005.464,5.6],[2005.521,5.8],[2005.559,6.0],[2005.563,5.5],[2005.6,5.6],[2005.623,7.2],[2005.65,6.3],[2005.669,6.3],[2005.65,5.9],[2005.724,6.0],[2005.801,6.3],[2005.813,6.1],[2005.809,5.6],[2005.872,7.2],[2005.921,6.6],[2005.921,6.1],[2005.961,6.1],[2005.888,6.0],[2006.002,5.9],[2005.99,5.6],[2006.048,5.7],[2006.094,5.9],[2006.237,6.0],[2006.294,5.8],[2006.237,5.5],[2006.237,5.3],[2005.875,5.5],
[2006.446,6.2],[2006.459,5.7],[2006.459,5.6],[2006.52,5.4],[2006.536,5.2],[2006.601,6.2],[2006.642,5.5],[2006.672,5.4],[2006.618,5.3],[2006.711,5.8],[2006.74,5.3],[2006.781,6.0],[2006.817,6.8],[2006.83,5.5],[2006.884,6.0],[2006.895,5.6],[2006.944,5.7],[2007.046,5.8],[2007.002,5.5],[2007.042,5.2],[2007.132,6.2],[2007.19,6.2],[2007.186,6.0],[2007.194,5.6],[2007.23,6.9],[2007.247,5.8],[2007.222,5.3],[2007.301,6.7],[2007.301,6.3],[2007.301,6.1],[2007.304,5.7],[2007.377,5.5],[2007.5,5.8],[2007.541,6.8],[2007.541,6.7],[2007.541,5.8],[2007.582,6.1],[2007.601,6.3],[2007.582,5.6],[2007.582,5.5],[2007.655,5.4],[2007.761,5.8],[2007.757,5.6],[2007.794,5.4],[2007.905,6.0],[2007.936,6.0],[2007.835,5.3],[2007.974,5.6],[2008.002,5.6],[2007.998,5.0],[2008.003,4.7],[2007.998,4.6],[2007.998,4.3]];

const lowEventsDRate = [[2002.0,4.5],[2002.03,5.05],[2002.07,4.95],[2002.11,5.1],[2002.15,5.0],[2002.19,4.9],[2002.23,5.12],[2002.27,4.95],[2002.31,5.0],[2002.35,4.85],[2002.39,4.9],[2002.43,5.05],[2002.47,5.15],[2002.51,4.95],[2002.55,5.0],[2002.6,5.05],[2002.64,4.95],[2002.68,5.05],[2002.72,5.0],[2002.76,4.95],[2002.81,5.05],[2002.85,5.1],[2002.89,5.1],[2002.93,5.0],[2002.97,4.9],[2003.02,5.0],[2003.07,5.1],[2003.11,5.0],[2003.15,5.1],[2003.2,4.95],[2003.24,5.1],[2003.28,5.15],[2003.33,4.85],[2003.37,5.05],[2003.42,5.0],[2003.47,5.1],[2003.51,4.9],[2003.55,5.0],[2003.59,4.95],[2003.63,5.1],[2003.67,4.9],[2003.7,5.15],[2003.75,5.8],[2003.78,5.6],[2003.81,5.4],[2003.88,5.3],[2003.92,5.25],[2003.96,5.2],[2004.02,5.15],[2004.06,5.0],[2004.1,5.05],[2004.14,4.95],[2004.18,4.9],[2004.22,5.0],[2004.27,5.1],[2004.3,5.0],[2004.35,4.95],[2004.38,5.1],[2004.42,5.05],[2004.46,5.0],[2004.49,5.05],[2004.53,5.25],[2004.58,5.1],[2004.62,5.0],[2004.65,5.3],[2004.72,5.15],[2004.76,5.3],[2004.78,5.2],[2004.83,5.5],[2004.87,5.3],[2004.93,5.3],[2004.97,5.2],[2005.02,5.15],[2005.07,5.25],[2005.1,5.1],[2005.14,5.05],[2005.18,5.1],[2005.23,5.15],[2005.27,5.0],[2005.32,5.05],[2005.36,5.1],[2005.39,5.0],[2005.43,5.05],[2005.47,5.2],[2005.51,5.1],[2005.54,5.05],[2005.58,5.1],[2005.62,5.2],[2005.67,5.15],[2005.71,5.0],[2005.75,5.05],[2005.79,5.05],[2005.83,5.1],[2005.87,5.25],[2005.91,5.2],[2005.95,5.1],[2006.0,5.15],[2006.03,5.1],[2006.07,5.0],[2006.11,5.1],[2006.15,5.05],[2006.2,5.0],[2006.25,5.0],[2006.29,5.1],[2006.33,5.05],[2006.38,4.95],[2006.42,4.95],[2006.47,5.0],[2006.53,4.9],[2006.57,4.85],[2006.62,4.9],[2006.66,5.05],[2006.7,5.1],[2006.75,4.95],[2006.79,4.9],[2006.84,5.0],[2006.88,4.95],[2006.92,5.1],[2006.96,5.0],[2007.0,4.9],[2007.05,5.0],[2007.09,5.1],[2007.14,5.15],[2007.18,4.95],[2007.21,5.1],[2007.27,5.3],[2007.33,5.25],[2007.36,5.1],[2007.41,5.0],[2007.45,5.1],[2007.49,4.95],[2007.54,5.05],[2007.58,5.1],[2007.62,5.0],[2007.67,5.05],[2007.71,4.9],[2007.75,5.0],[2007.79,5.05],[2007.83,4.95],[2007.87,4.9],[2007.91,5.1],[2007.95,5.0],[2008.0,4.75]];

const backgroundTopDRate = [[2002.0,4.62],[2002.05,4.67],[2002.1,4.72],[2002.2,4.75],[2002.3,4.65],[2002.4,4.65],[2002.5,4.7],[2002.6,4.78],[2002.65,4.68],[2002.7,4.68],[2002.8,4.73],[2002.9,4.72],[2003.0,4.72],[2003.1,4.75],[2003.2,4.68],[2003.3,4.7],[2003.4,4.72],[2003.45,4.75],[2003.5,4.72],[2003.6,4.68],[2003.7,4.7],[2003.725,4.72],[2003.735,5.84],[2003.75,5.84],[2003.8,5.5],[2003.85,5.25],[2003.9,5.15],[2003.95,5.1],[2004.0,5.0],[2004.1,4.82],[2004.2,4.78],[2004.3,4.77],[2004.4,4.78],[2004.5,4.75],[2004.55,4.65],[2004.6,4.72],[2004.68,4.75],[2004.69,5.1],[2004.75,5.12],[2004.8,5.12],[2004.84,5.41],[2004.9,5.2],[2004.95,5.12],[2005.0,5.05],[2005.05,5.0],[2005.1,4.95],[2005.15,4.9],[2005.2,4.88],[2005.25,4.9],[2005.3,4.88],[2005.4,4.88],[2005.5,4.85],[2005.55,4.82],[2005.6,4.88],[2005.7,4.78],[2005.8,4.78],[2005.85,4.82],[2005.9,4.92],[2006.0,4.92],[2006.1,4.82],[2006.2,4.78],[2006.3,4.78],[2006.35,4.75],[2006.4,4.72],[2006.5,4.67],[2006.6,4.65],[2006.7,4.7],[2006.8,4.68],[2006.9,4.73],[2007.0,4.7],[2007.1,4.7],[2007.2,4.68],[2007.25,4.9],[2007.3,5.0],[2007.35,4.87],[2007.4,4.78],[2007.5,4.72],[2007.6,4.75],[2007.7,4.7],[2007.8,4.68],[2007.9,4.68],[2008.0,4.7]];

const rateBandD = [[2002.0,1.5,1.62],[2002.05,1.53,1.72],[2002.1,1.56,1.74],[2002.2,1.58,1.7],[2002.3,1.52,1.62],[2002.4,1.52,1.64],[2002.5,1.55,1.7],[2002.6,1.6,1.72],[2002.65,1.54,1.64],[2002.7,1.54,1.62],[2002.8,1.57,1.68],[2002.9,1.56,1.72],[2003.0,1.56,1.68],[2003.1,1.58,1.66],[2003.2,1.54,1.64],[2003.3,1.55,1.7],[2003.4,1.56,1.68],[2003.45,1.58,1.68],[2003.5,1.56,1.68],[2003.6,1.54,1.63],[2003.7,1.55,1.62],[2003.725,1.57,1.66],[2003.735,2.1,2.5],[2003.75,2.08,2.4],[2003.8,1.96,2.3],[2003.85,1.85,2.12],[2003.9,1.76,2.0],[2003.95,1.72,1.92],[2004.0,1.71,1.86],[2004.1,1.61,1.72],[2004.2,1.6,1.68],[2004.3,1.59,1.7],[2004.4,1.6,1.72],[2004.5,1.58,1.72],[2004.55,1.52,1.64],[2004.6,1.56,1.68],[2004.68,1.58,1.7],[2004.69,1.82,2.25],[2004.75,1.8,2.1],[2004.8,1.85,2.15],[2004.85,1.92,2.2],[2004.9,1.85,2.05],[2004.95,1.72,1.92],[2005.0,1.72,1.92],[2005.05,1.7,1.92],[2005.1,1.68,1.9],[2005.15,1.67,1.8],[2005.2,1.66,1.78],[2005.25,1.68,1.82],[2005.3,1.66,1.76],[2005.4,1.66,1.74],[2005.5,1.64,1.78],[2005.55,1.62,1.85],[2005.6,1.66,1.88],[2005.7,1.6,1.74],[2005.8,1.6,1.72],[2005.85,1.62,1.84],[2005.9,1.68,1.84],[2006.0,1.68,1.8],[2006.1,1.62,1.72],[2006.2,1.6,1.7],[2006.3,1.6,1.7],[2006.35,1.58,1.66],[2006.4,1.56,1.64],[2006.5,1.53,1.62],[2006.6,1.52,1.6],[2006.7,1.55,1.64],[2006.8,1.54,1.66],[2006.9,1.57,1.68],[2007.0,1.55,1.65],[2007.1,1.55,1.62],[2007.2,1.54,1.68],[2007.25,1.68,1.92],[2007.3,1.72,1.98],[2007.35,1.65,1.8],[2007.4,1.6,1.72],[2007.5,1.56,1.68],[2007.6,1.58,1.7],[2007.7,1.55,1.62],[2007.8,1.54,1.66],[2007.9,1.54,1.66],[2008.0,1.55,1.66]];

const rateSpikesD = [[2002.031,2.41],[2002.051,2.47],[2002.074,2.42],[2002.173,2.46],[2002.19,2.25],[2002.236,2.25],[2002.219,2.08],[2002.296,1.9],[2002.403,2.12],[2002.463,2.06],[2002.489,3.17],[2002.544,2.12],[2002.583,2.13],[2002.634,2.94],[2002.646,2.75],[2002.697,1.95],[2002.795,2.07],[2002.838,3.08],[2002.855,2.08],[2002.923,2.58],[2002.903,2.27],[2002.997,2.06],[2003.044,2.28],[2003.022,2.03],[2003.113,2.34],[2003.222,2.63],[2003.262,2.67],[2003.313,2.22],[2003.352,2.57],[2003.395,3.45],[2003.41,2.22],[2003.497,2.71],[2003.526,2.03],[2003.557,3.16],[2003.566,2.71],[2003.595,2.05],[2003.617,1.91],[2003.728,3.82],[2003.732,3.76],[2003.745,2.9],[2003.771,2.76],[2003.826,3.18],[2003.865,2.46],[2003.809,2.58],[2003.783,2.66],
[2003.834,3.18],[2003.84,2.89],[2003.872,2.46],[2003.896,2.52],[2003.98,2.73],[2003.956,2.21],[2003.931,2.23],[2004.005,2.11],[2004.028,2.08],[2004.063,2.13],[2004.079,2.14],[2004.115,2.07],[2004.169,2.02],[2004.194,2.56],[2004.214,2.57],[2004.235,2.43],[2004.258,2.18],[2004.28,2.59],[2004.304,2.21],[2004.349,2.64],[2004.375,2.3],[2004.413,2.87],[2004.436,2.44],[2004.447,2.18],[2004.477,2.41],[2004.513,1.97],[2004.554,2.55],[2004.571,2.01],[2004.609,2.23],[2004.63,2.47],[2004.641,2.38],[2004.683,3.63],[2004.691,3.13],[2004.715,2.48],[2004.745,2.5],[2004.768,2.57],[2004.793,2.17],[2004.813,3.62],[2004.824,3.09],[2004.839,2.59],[2004.855,2.94],[2004.913,3.54],[2004.898,2.38],[2004.956,2.94],[2004.946,2.53],[2004.995,2.71],[2005.053,3.27],[2005.061,3.12],[2005.069,2.64],[2005.112,3.18],[2005.127,2.07],[2005.156,2.59],[2005.217,3.44],[2005.209,2.33],[2005.278,2.41],[2005.258,2.05],[2005.303,2.68],[2005.332,1.84],[2005.357,1.95],[2005.406,2.16],[2005.423,2.33],[2005.464,2.61],[2005.489,2.16],[2005.513,2.48],[2005.526,2.41],[2005.559,2.91],[2005.571,2.77],[2005.579,2.52],[2005.623,3.48],[2005.648,3.0],[2005.664,3.09],[2005.702,2.16],[2005.765,2.11],[2005.796,2.94],[2005.817,2.21],[2005.873,3.47],[2005.924,2.81],[2005.998,2.01],[2006.051,2.34],[2006.094,2.9],[2006.069,2.18],[2006.114,1.91],[2006.196,2.48],[2006.245,2.18],[2006.275,2.21],[2006.303,2.5],[2006.332,2.49],
[2006.392,2.02],[2006.425,2.13],[2006.462,2.6],[2006.492,2.11],[2006.565,1.95],[2006.618,1.86],[2006.737,2.12],[2006.752,1.96],[2006.83,2.59],[2006.882,2.49],[2006.933,2.43],[2007.002,2.3],[2007.047,2.17],[2007.132,2.76],[2007.185,2.52],[2007.232,3.46],[2007.258,2.46],[2007.299,3.31],[2007.333,2.11],[2007.372,2.06],[2007.387,2.25],[2007.415,2.18],[2007.435,2.17],[2007.451,2.26],[2007.471,2.32],[2007.52,2.07],[2007.539,3.34],[2007.582,3.0],[2007.623,2.62],[2007.631,2.43],[2007.712,1.95],[2007.745,1.98],[2007.773,2.2],[2007.791,2.21],[2007.889,2.32],[2007.917,2.4],[2007.931,2.65],[2007.966,2.41],[2007.99,2.32]];

const minorSpikesD = [[2002.012,1.85],[2002.02,1.95],[2002.042,2.1],[2002.062,2.05],[2002.085,2.1],[2002.105,2.0],[2002.13,1.95],[2002.155,2.05],[2002.2,1.98],[2002.245,1.95],[2002.265,1.9],[2002.31,1.85],[2002.33,1.8],[2002.36,1.82],[2002.38,1.88],[2002.42,1.85],[2002.44,1.95],[2002.475,2.0],[2002.51,1.9],[2002.525,2.0],[2002.565,2.1],[2002.6,2.0],[2002.655,1.85],[2002.68,1.9],[2002.72,1.85],[2002.75,1.88],[2002.77,2.0],[2002.81,2.1],[2002.825,2.05],[2002.87,2.1],[2002.89,2.15],[2002.945,2.05],[2002.97,1.95],[2002.985,1.9],
[2003.015,1.85],[2003.055,1.95],[2003.09,1.88],[2003.13,1.85],[2003.15,1.9],[2003.18,1.85],[2003.24,1.95],[2003.285,1.9],[2003.335,1.95],[2003.37,1.85],[2003.425,1.98],[2003.46,2.05],[2003.48,2.0],[2003.515,1.95],[2003.54,1.85],[2003.58,1.9],[2003.61,1.85],[2003.64,1.85],[2003.67,1.82],[2003.69,1.85],[2003.76,2.5],[2003.79,2.45],[2003.805,2.35],[2003.845,2.3],[2003.88,2.2],[2003.91,2.1],[2003.915,2.15],[2003.945,2.15],[2003.97,2.0],[2003.99,1.95],
[2004.015,2.05],[2004.045,1.95],[2004.09,1.9],[2004.125,1.85],[2004.15,1.82],[2004.18,1.95],[2004.205,1.88],[2004.225,1.9],[2004.27,2.0],[2004.295,1.95],[2004.32,1.85],[2004.335,1.95],[2004.36,2.05],[2004.39,1.92],[2004.425,1.88],[2004.46,1.9],[2004.49,1.85],[2004.525,1.82],[2004.58,1.82],[2004.62,2.0],[2004.655,1.9],[2004.67,2.0],[2004.705,2.3],[2004.725,2.25],[2004.735,2.3],[2004.755,2.2],[2004.78,2.25],[2004.83,2.35],[2004.85,2.3],[2004.875,2.25],[2004.885,2.15],[2004.925,2.3],[2004.965,2.1],[2004.985,2.2],
[2005.02,2.1],[2005.035,2.2],[2005.08,2.15],[2005.1,2.1],[2005.14,2.05],[2005.17,1.95],[2005.19,1.9],[2005.235,1.95],[2005.27,1.95],[2005.29,2.05],[2005.315,1.9],[2005.345,1.95],[2005.38,1.9],[2005.395,2.0],[2005.43,2.05],[2005.45,1.95],[2005.48,2.0],[2005.5,2.1],[2005.535,2.1],[2005.55,2.0],[2005.59,2.2],[2005.61,2.3],[2005.635,2.2],[2005.68,2.0],[2005.72,1.85],[2005.745,1.92],[2005.78,1.9],[2005.805,2.0],[2005.83,2.1],[2005.85,2.15],[2005.86,2.2],[2005.895,2.2],[2005.91,2.3],[2005.945,2.05],[2005.965,2.1],[2005.985,2.0],
[2006.02,2.05],[2006.035,1.95],[2006.078,1.92],[2006.105,2.05],[2006.13,1.95],[2006.16,1.88],[2006.18,1.9],[2006.215,1.88],[2006.26,1.95],[2006.29,2.0],[2006.32,1.95],[2006.36,1.82],[2006.38,1.85],[2006.415,1.85],[2006.44,1.95],[2006.475,1.95],[2006.51,1.85],[2006.53,1.8],[2006.58,1.8],[2006.6,1.85],[2006.635,1.9],[2006.66,2.0],[2006.685,1.85],[2006.72,1.9],[2006.765,1.85],[2006.79,2.0],[2006.81,1.85],[2006.85,1.95],[2006.865,2.0],[2006.905,1.9],[2006.925,2.0],[2006.955,1.9],[2006.98,1.95],
[2007.02,1.9],[2007.06,1.88],[2007.08,1.85],[2007.105,1.82],[2007.15,1.85],[2007.17,2.0],[2007.205,2.05],[2007.245,2.2],[2007.27,2.2],[2007.285,2.25],[2007.32,2.15],[2007.345,2.05],[2007.36,1.95],[2007.395,2.0],[2007.425,2.05],[2007.46,2.1],[2007.49,1.95],[2007.51,1.95],[2007.56,2.3],[2007.6,2.1],[2007.615,1.95],[2007.65,1.9],[2007.68,1.82],[2007.72,1.9],[2007.735,1.92],[2007.76,1.9],[2007.8,1.85],[2007.83,1.88],[2007.86,1.85],[2007.9,2.0],[2007.945,2.05],[2007.975,1.95]];

/* ---------- Rendering ---------- */
const NS = 'http://www.w3.org/2000/svg';
function mk(tag, attrs, parent, txt) {
  const el = document.createElementNS(NS, tag);
  for (const k in attrs) el.setAttribute(k, attrs[k]);
  if (txt !== undefined) el.textContent = txt;
  parent.appendChild(el);
  return el;
}
function xAxis(p) { return t => p.left + (t - p.t0) / (p.t1 - p.t0) * (p.right - p.left); }
function yLinear(p) { return v => p.bottom - v / p.vmax * (p.bottom - p.top); }
function yLog(p) { return lv => p.bottom - (lv - 1) / 3 * (p.bottom - p.top); }
function yMag(p) { return m => p.mLoY + (m - p.mLo) / (p.mHi - p.mLo) * (p.mHiY - p.mLoY); }
function fmt(n) { return n.toFixed(1); }

function drawFrame(g, p, sw) {
  const r = mk('rect', {x:p.left, y:p.top, width:p.right-p.left, height:p.bottom-p.top, fill:'none', stroke:'#000', 'stroke-width':sw}, g);
  
  
}
function drawXTicks(g, p, perYear, majorEvery, labels, size, base1, base2) {
  const x = xAxis(p);
  const total = Math.round((p.t1 - p.t0) * perYear);
  let li = 0;
  for (let i = 0; i <= total; i++) {
    const t = p.t0 + i / perYear;
    const major = i % majorEvery === 0;
    const len = major ? 32 : 15;
    if (i > 0 && i < total) {
      const a = mk('line', {x1:x(t), x2:x(t), y1:p.top, y2:p.top+len, stroke:'#000', 'stroke-width':5.5}, g);
      
      
      const b = mk('line', {x1:x(t), x2:x(t), y1:p.bottom, y2:p.bottom-len, stroke:'#000', 'stroke-width':5.5}, g);
      
      
    }
    if (major) {
      const pair = labels[li++];
      const t1 = mk('text', {x:x(t)-10, y:base1, 'text-anchor':'middle', 'font-size':size}, g, pair[0]);
      
      
      const t2 = mk('text', {x:x(t)+11, y:base2, 'text-anchor':'middle', 'font-size':size}, g, pair[1]);
      
      
    }
  }
}
function drawRightAxis(g, p, labels, values, size, lx, off) {
  const y = yMag(p);
  values.forEach((m, i) => {
    const tk = mk('line', {x1:p.right, x2:p.right-33, y1:y(m), y2:y(m), stroke:'#000', 'stroke-width':5.5}, g);
    
    
    const tx = mk('text', {x:lx, y:y(m)+off, 'font-size':size}, g, labels[i]);
    
    
  });
}
function drawBetaAxisLeft(g, p, labels) {
  const y = yLinear(p);
  labels.forEach(s => {
    const v = parseFloat(s);
    if (v > 0 && v < p.vmax) {
      const tk = mk('line', {x1:p.left, x2:p.left+33, y1:y(v), y2:y(v), stroke:'#000', 'stroke-width':5.5}, g);
      
      
    }
    const tx = mk('text', {x:347, y:y(v)+23, 'text-anchor':'end', 'font-size':70}, g, s);
    
    
  });
}
function drawLogAxisLeft(g, p) {
  const y = yLog(p);
  for (let d = 1; d <= 4; d++) {
    if (d < 4) {
      for (let k = 2; k <= 9; k++) {
        const lv = d + Math.log10(k);
        const mt = mk('line', {x1:p.left, x2:p.left+16, y1:y(lv), y2:y(lv), stroke:'#000', 'stroke-width':5}, g);
        
        
      }
    }
    if (d > 1 && d < 4) {
      const tk = mk('line', {x1:p.left, x2:p.left+33, y1:y(d), y2:y(d), stroke:'#000', 'stroke-width':5}, g);
      
      
    }
    const base = mk('text', {x:315, y:y(d)+28, 'text-anchor':'end', 'font-size':64}, g, '10');
    
    
    const exp = mk('text', {x:319, y:y(d)-5, 'font-size':46}, g, String(d));
    
    
  }
}
function curve(g, p, pts, color, sw) {
  const x = xAxis(p), y = yLinear(p);
  const d = pts.map((q, i) => (i ? 'L' : 'M') + fmt(x(q[0])) + ' ' + fmt(y(q[1]))).join('');
  return mk('path', {d:d, fill:'none', stroke:color, 'stroke-width':sw, 'stroke-linejoin':'round'}, g);
}
function threshold(g, p, v) {
  const y = yLinear(p);
  const l = mk('line', {x1:p.left, x2:p.right, y1:y(v), y2:y(v), stroke:'#f00', 'stroke-width':3}, g);
  
  
}
function arrows(g, p, list) {
  const x = xAxis(p), m = yMag(p);
  list.forEach(a => {
    const cx = x(a[0]), cy = m(a[1]);
    const stem = mk('line', {x1:cx, x2:cx, y1:p.bottom, y2:cy, stroke:'#000', 'stroke-width':6}, g);
    
    
    const tri = mk('path', {d:'M'+fmt(cx-19)+' '+fmt(cy+14)+'L'+fmt(cx)+' '+fmt(cy-15)+'L'+fmt(cx+19)+' '+fmt(cy+14)+'Z', fill:'none', stroke:'#000', 'stroke-width':6}, g);
    
    
  });
}
function boxes(g, p, list) {
  const x = xAxis(p), y = yLinear(p);
  list.forEach(b => {
    const r = mk('rect', {x:x(b[0])-24, y:y(b[1])-24, width:48, height:48, fill:'none', stroke:'#0f0', 'stroke-width':3}, g);
    
    
  });
}
function rings(g, p, list) {
  const x = xAxis(p), y = yLinear(p);
  list.forEach(b => {
    const r = mk('circle', {cx:x(b[0]), cy:y(b[1]), r:25, fill:'none', stroke:'#f00', 'stroke-width':3}, g);
    
    
  });
}
function events(g, p, list) {
  const x = xAxis(p), m = yMag(p);
  list.forEach(e => {
    const st = mk('line', {x1:x(e[0]), x2:x(e[0]), y1:p.bottom, y2:m(e[1]), stroke:'#000', 'stroke-width':4}, g);
    
    
    const c = mk('circle', {cx:x(e[0]), cy:m(e[1]), r:15.5, fill:'#000'}, g);
    
    
  });
}
function background(g, p, list) {
  const x = xAxis(p), m = yMag(p);
  const a = list.map(q => fmt(x(q[0])) + ',' + fmt(m(q[1])));
  a.push(fmt(x(p.t1)) + ',' + fmt(m(p.mLo)));
  a.push(fmt(x(p.t0)) + ',' + fmt(m(p.mLo)));
  return mk('polygon', {points:a.join(' '), fill:'#000', stroke:'#000', 'stroke-width':31, 'stroke-linejoin':'round'}, g);
}
function band(g, p, list) {
  const x = xAxis(p), y = yLog(p);
  const up = list.map(q => fmt(x(q[0])) + ',' + fmt(y(q[2])));
  const lo = list.slice().reverse().map(q => fmt(x(q[0])) + ',' + fmt(y(q[1])));
  return mk('polygon', {points:up.concat(lo).join(' '), fill:'#f0f', stroke:'#f0f', 'stroke-width':4, 'stroke-linejoin':'round'}, g);
}
function spikes(g, p, list, bandList) {
  const x = xAxis(p), y = yLog(p);
  list.forEach(s => {
    let near = bandList[0];
    bandList.forEach(b => { if (Math.abs(b[0] - s[0]) < Math.abs(near[0] - s[0])) near = b; });
    const lo = near[1], h = s[1] - lo;
    const d = 'M' + fmt(x(s[0])) + ' ' + fmt(y(lo)) +
      'L' + fmt(x(s[0])) + ' ' + fmt(y(s[1])) +
      'L' + fmt(x(s[0] + 0.003)) + ' ' + fmt(y(lo + h * 0.55)) +
      'L' + fmt(x(s[0] + 0.012)) + ' ' + fmt(y(lo + h * 0.22)) +
      'L' + fmt(x(s[0] + 0.03)) + ' ' + fmt(y(lo + h * 0.02));
    const sp = mk('path', {d:d, fill:'none', stroke:'#f0f', 'stroke-width':5, 'stroke-linejoin':'miter'}, g);
    
    
  });
}

const pC  = {left:392, right:3296, top:68,   bottom:938,  t0:1996, t1:2002, vmax:1.2, mLo:7, mHi:9, mLoY:917,  mHiY:88};
const pCR = {left:387, right:3294, top:1181, bottom:2030, t0:1996, t1:2002, mLo:4, mHi:9, mLoY:2024, mHiY:1189};
const pD  = {left:392, right:3296, top:2242, bottom:3113, t0:2002, t1:2008, vmax:1.6, mLo:7, mHi:9, mLoY:3091, mHiY:2263};
const pDR = {left:387, right:3294, top:3355, bottom:4205, t0:2002, t1:2008, mLo:4, mHi:9, mLoY:4198, mHiY:3363};

const yearPairs = yearLabelsC.map(y => ["01 Jan", y]);
const magBeta = [7, 7.5, 8, 8.5, 9];
const magRate = [4, 5, 6, 7, 8, 9];

function betaPanel(g, p, d200, d300, arr, yLabels) {
  threshold(g, p, thresholdBeta[0]);
  const red = curve(g, p, d200, '#f00', 6.5);
  
  
  const blue = curve(g, p, d300, '#00f', 6.5);
  
  
  arrows(g, p, arr);
  drawBetaAxisLeft(g, p, yLabels);
  drawFrame(g, p, 6.5);
}
function ratePanel(g, p, ev, low, bg, bd, sp, minor) {
  events(g, p, ev);
  events(g, p, low);
  const blk = background(g, p, bg);
  
  
  drawFrame(g, p, 5.5);
  const mg = band(g, p, bd);
  
  
  spikes(g, p, minor, bd);
  spikes(g, p, sp, bd);
  drawLogAxisLeft(g, p);
}

const gC = document.getElementById('panelC');
const gCR = document.getElementById('panelCRate');
const gD = document.getElementById('panelD');
const gDR = document.getElementById('panelDRate');

betaPanel(gC, pC, beta200C, beta300C, arrowsC, yLabelsC);
boxes(gC, pC, boxesC);
drawXTicks(gC, pC, 4, 4, yearPairs, 69, 1034, 1105);
drawRightAxis(gC, pC, rightLabelsBeta, magBeta, 69, 3361, 25);

ratePanel(gCR, pCR, eventsCRate, lowEventsCRate, backgroundTopCRate, rateBandC, rateSpikesC, minorSpikesC);
drawXTicks(gCR, pCR, 4, 4, yearPairs, 65, 2121, 2185);
drawRightAxis(gCR, pCR, rightLabelsRate, magRate, 64, 3353, 22);

betaPanel(gD, pD, beta200D, beta300D, arrowsD, yLabelsD);
boxes(gD, pD, boxesD);
rings(gD, pD, circlesD);
drawXTicks(gD, pD, 12, 6, halfYearLabelsD, 69, 3208, 3280);
drawRightAxis(gD, pD, rightLabelsBeta, magBeta, 69, 3361, 25);

ratePanel(gDR, pDR, eventsDRate, lowEventsDRate, backgroundTopDRate, rateBandD, rateSpikesD, minorSpikesD);
drawXTicks(gDR, pDR, 12, 6, halfYearLabelsD, 65, 4294, 4361);
drawRightAxis(gDR, pDR, rightLabelsRate, magRate, 64, 3353, 22);
</script>
</body>
</html>
